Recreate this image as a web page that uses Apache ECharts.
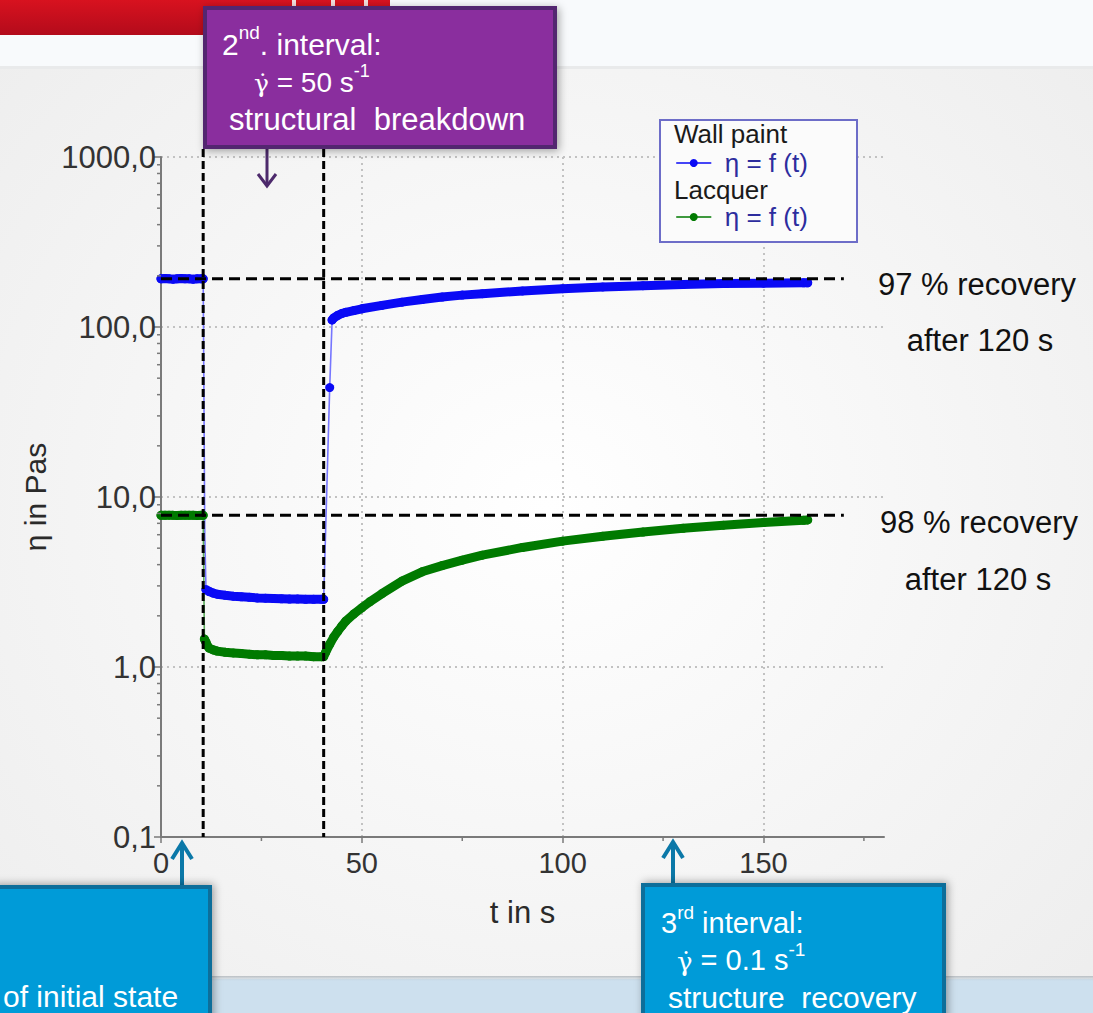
<!DOCTYPE html>
<html><head><meta charset="utf-8">
<script src="https://cdn.jsdelivr.net/npm/echarts@6/dist/echarts.min.js"></script>
<style>html,body{margin:0;padding:0;background:#f3f3f3}#c{width:1093px;height:1013px}</style>
</head><body><div id="c"></div>
<script>
// ---- axis ticks ----
const xTickValues = [0, 50, 100, 150];
const xMinorTickValues = [25, 75, 125, 175];
const yTickValues = [0.1, 1, 10, 100, 1000];
const yMinorTickValues = [0.2,0.3,0.4,0.5,0.6,0.7,0.8,0.9, 2,3,4,5,6,7,8,9, 20,30,40,50,60,70,80,90, 200,300,400,500,600,700,800,900];

// ---- interval boundaries & recovery reference levels ----
const dividerTimes = [10.5, 40.5];
const dividerTop = 1115;
const recoveryLevels = [192, 7.8];
const recoveryLineEnd = 170;

// ---- Wall paint (eta in Pa s vs t in s) ----
const wallTime1 = [0, 1, 2, 3, 4, 5, 6, 7, 8, 9, 10, 10.5];
const wallEta1  = [192, 193, 192, 191, 192, 193, 192, 192, 191, 192, 192, 192];
const wallDropTime = [10.7, 10.9];
const wallDropEta  = [35, 6];
const wallTime2 = [11.2, 12, 13, 14, 16, 18, 20, 22, 24, 26, 28, 30, 32, 34, 36, 38, 40, 40.5];
const wallEta2  = [2.85, 2.78, 2.72, 2.68, 2.64, 2.61, 2.59, 2.57, 2.55, 2.54, 2.53, 2.52, 2.51, 2.51, 2.5, 2.5, 2.5, 2.5];
const wallJumpTime = [42.0];
const wallJumpEta  = [44];
const wallTime3 = [42.6, 43, 44, 45, 46, 48, 50, 55, 60, 65, 70, 75, 80, 90, 100, 110, 120, 130, 140, 150, 160, 161];
const wallEta3  = [110, 113, 117, 120, 122, 125, 128, 134, 140, 145, 150, 154, 157, 163, 168, 172, 175, 178, 180, 181, 182, 182];

// ---- Lacquer ----
const lacTime1 = [0, 1, 2, 3, 4, 5, 6, 7, 8, 9, 10, 10.5];
const lacEta1  = [7.8, 7.8, 7.82, 7.8, 7.79, 7.8, 7.81, 7.8, 7.8, 7.79, 7.8, 7.8];
const lacTime2 = [10.8, 11.2, 11.6, 12, 13, 14, 16, 18, 20, 22, 24, 26, 28, 30, 32, 34, 36, 38, 40, 40.5];
const lacEta2  = [1.46, 1.40, 1.33, 1.29, 1.26, 1.24, 1.22, 1.21, 1.2, 1.19, 1.18, 1.18, 1.17, 1.17, 1.16, 1.16, 1.16, 1.15, 1.15, 1.15];
const lacTime3 = [41, 42, 43, 44, 45, 46, 48, 50, 52, 55, 60, 65, 70, 75, 80, 90, 100, 110, 120, 130, 140, 150, 160, 161];
const lacEta3  = [1.22, 1.36, 1.50, 1.62, 1.74, 1.86, 2.05, 2.23, 2.42, 2.70, 3.20, 3.63, 3.95, 4.25, 4.55, 5.05, 5.50, 5.88, 6.22, 6.55, 6.83, 7.08, 7.30, 7.33];

function pts(ts, vs) { return ts.map((t, i) => [t, vs[i]]); }
function gap(t) { return [t, null]; }

const wallThick = [].concat(pts(wallTime1, wallEta1), [gap(10.8)], pts(wallTime2, wallEta2), [gap(41)],
  pts(wallJumpTime, wallJumpEta), [gap(42.3)], pts(wallTime3, wallEta3));
const wallThin = [].concat(pts(wallTime1, wallEta1), pts(wallDropTime, wallDropEta), pts(wallTime2, wallEta2),
  pts(wallJumpTime, wallJumpEta), pts(wallTime3, wallEta3));
const lacThick = [].concat(pts(lacTime1, lacEta1), [gap(10.65)], pts(lacTime2, lacEta2), pts(lacTime3, lacEta3));
const lacThin = [].concat(pts(lacTime1, lacEta1), pts(lacTime2, lacEta2), pts(lacTime3, lacEta3));

const guideData = [];
dividerTimes.forEach(t => guideData.push([t, dividerTop, t, yTickValues[0], 0]));
recoveryLevels.forEach(v => guideData.push([xTickValues[0], v, recoveryLineEnd, v, 1]));

const F = "'Liberation Sans', Arial, sans-serif";
const G = "'DejaVu Serif', 'DejaVu Sans', serif";
const BLUE = '#0a0af5', GREEN = '#007a00';

const chart = echarts.init(document.getElementById('c'), null, {renderer: 'svg', width: 1093, height: 1013});

function boxText(x, y, parts, size) {
  const txt = parts.map(p => '{' + p[0] + '|' + p[1] + '}').join('');
  return {
    type: 'text', z: 101, x: x, y: y,
    style: {
      text: txt, verticalAlign: 'middle', align: 'left',
      rich: {
        a: {fontSize: size, fontFamily: F, fill: '#fff', lineHeight: size + 6, verticalAlign: 'bottom'},
        g: {fontSize: Math.round(size * 0.9), fontFamily: G, fill: '#fff', lineHeight: size + 6, verticalAlign: 'bottom'},
        s: {fontSize: Math.round(size * 0.64), fontFamily: F, fill: '#fff', lineHeight: Math.round(size * 0.64) + 2, verticalAlign: 'top'}
      }
    }
  };
}
function plainText(x, y, t, size, color, align) {
  return {type: 'text', z: 20, x: x, y: y, style: {text: t, font: size + 'px ' + F, fill: color, align: align || 'center', verticalAlign: 'middle'}};
}

const option = {
  backgroundColor: '#f3f3f3',
  animation: false,
  grid: {left: 161, top: 157, width: 723, height: 680, containLabel: false},
  xAxis: {
    type: 'value', min: 0, max: 180,
    name: 't in s', nameLocation: 'middle', nameGap: 60,
    nameTextStyle: {fontFamily: F, fontSize: 31, color: '#2a2a2a'},
    axisLine: {lineStyle: {color: '#7a7a7a', width: 2}},
    axisTick: {show: true, length: 6, customValues: xTickValues, lineStyle: {color: '#7a7a7a', width: 1.5}},
    axisLabel: {customValues: xTickValues, fontFamily: F, fontSize: 29, color: '#333', margin: 11},
    splitLine: {show: true, lineStyle: {color: '#c2c2c2', width: 2, type: [2, 4]}}
  },
  yAxis: {
    type: 'log', logBase: 10, min: 0.1, max: 1000,
    name: 'η in Pas', nameLocation: 'middle', nameGap: 104, nameRotate: 90,
    nameTextStyle: {fontFamily: F, fontSize: 30, color: '#2a2a2a'},
    axisLine: {show: true, lineStyle: {color: '#7a7a7a', width: 2}},
    axisTick: {show: true, length: 7, customValues: yTickValues, lineStyle: {color: '#7a7a7a', width: 1.5}},
    axisLabel: {customValues: yTickValues, fontFamily: F, fontSize: 31, color: '#333', margin: 5,
      formatter: v => Number(v).toFixed(1).replace('.', ',')},
    splitLine: {show: true, lineStyle: {color: '#c2c2c2', width: 2, type: [2, 4]}}
  },
  legend: [
    {data: ['Wall paint'], left: 671, top: 145, orient: 'vertical', itemWidth: 34, itemHeight: 10, z: 8,
      formatter: () => 'η = f (t)', textStyle: {fontFamily: F, fontSize: 26, color: '#2d2d9e', padding: [0, 0, 0, 9]},
      lineStyle: {width: 1.5}, selectedMode: false},
    {data: ['Lacquer'], left: 671, top: 199, orient: 'vertical', itemWidth: 34, itemHeight: 10, z: 8,
      formatter: () => 'η = f (t)', textStyle: {fontFamily: F, fontSize: 26, color: '#2d2d9e', padding: [0, 0, 0, 9]},
      lineStyle: {width: 1.5}, selectedMode: false}
  ],
  series: [
    {name: 'wallThin', type: 'line', data: wallThin, showSymbol: false, silent: true, z: 2,
      lineStyle: {color: '#7676ff', width: 1.6}},
    {name: 'lacThin', type: 'line', data: lacThin, showSymbol: false, silent: true, z: 2,
      lineStyle: {color: '#5aa95a', width: 1.6}},
    {name: 'Lacquer', type: 'line', data: lacThick, z: 3, silent: true, symbol: 'circle', symbolSize: 9, showSymbol: true,
      itemStyle: {color: GREEN}, lineStyle: {color: GREEN, width: 9, cap: 'round', join: 'round'}, emphasis: {disabled: true}},
    {name: 'Wall paint', type: 'line', data: wallThick, z: 3, silent: true, symbol: 'circle', symbolSize: 9, showSymbol: true,
      itemStyle: {color: BLUE}, lineStyle: {color: BLUE, width: 9, cap: 'round', join: 'round'}, emphasis: {disabled: true}},
    {name: 'guides', type: 'custom', z: 5, silent: true, data: guideData,
      renderItem: (params, api) => {
        const a = api.coord([api.value(0), api.value(1)]);
        const b = api.coord([api.value(2), api.value(3)]);
        return {type: 'line', shape: {x1: a[0], y1: a[1], x2: b[0], y2: b[1]},
          style: {stroke: '#000', lineWidth: 3, lineDash: api.value(4) ? [11, 6] : [8, 4]}};
      }},
    {name: 'yMinor', type: 'custom', z: 4, silent: true, data: yMinorTickValues.map(v => [0, v]),
      renderItem: (params, api) => {
        const p = api.coord([0, api.value(1)]);
        return {type: 'line', shape: {x1: p[0] - 4, y1: p[1], x2: p[0], y2: p[1]}, style: {stroke: '#7a7a7a', lineWidth: 1.5}};
      }},
    {name: 'xMinor', type: 'custom', z: 4, silent: true, data: xMinorTickValues.map(t => [t, 0.1]),
      renderItem: (params, api) => {
        const p = api.coord([api.value(0), 0.1]);
        return {type: 'line', shape: {x1: p[0], y1: p[1], x2: p[0], y2: p[1] + 4}, style: {stroke: '#7a7a7a', lineWidth: 1.5}};
      }}
  ],
  graphic: {elements: [
    // slide background
    {type: 'rect', z: -20, silent: true, shape: {x: 0, y: 0, width: 1093, height: 1013},
      style: {fill: {type: 'radial', x: 0.5, y: 0.5, r: 0.75, colorStops: [{offset: 0, color: '#ffffff'}, {offset: 1, color: '#ececec'}]}}},
    {type: 'rect', z: -19, silent: true, shape: {x: 0, y: 0, width: 1093, height: 67}, style: {fill: '#f8fafc'}},
    {type: 'rect', z: -19, silent: true, shape: {x: 0, y: 66, width: 1093, height: 3}, style: {fill: '#e9eaeb'}},
    {type: 'rect', z: -18, silent: true, shape: {x: 0, y: 0, width: 390, height: 35},
      style: {fill: {type: 'linear', x: 0, y: 0, x2: 0, y2: 1, colorStops: [{offset: 0, color: '#d8121f'}, {offset: 1, color: '#b30b1b'}]}}},
    {type: 'rect', z: -17, silent: true, shape: {x: 292, y: 0, width: 4, height: 20}, style: {fill: '#f3dede'}},
    {type: 'rect', z: -17, silent: true, shape: {x: 331, y: 0, width: 4, height: 20}, style: {fill: '#f3dede'}},
    {type: 'rect', z: -17, silent: true, shape: {x: 364, y: 0, width: 4, height: 20}, style: {fill: '#f3dede'}},
    // bottom band
    {type: 'rect', z: -19, silent: true, shape: {x: 0, y: 979, width: 1093, height: 34}, style: {fill: '#cde0ee'}},
    {type: 'rect', z: -18, silent: true, shape: {x: 0, y: 976, width: 1093, height: 6},
      style: {fill: {type: 'linear', x: 0, y: 0, x2: 0, y2: 1, colorStops: [{offset: 0, color: '#b9bec2'}, {offset: 1, color: 'rgba(205,224,238,0)'}]}}},
    // legend frame
    {type: 'rect', z: 6, silent: true, shape: {x: 660, y: 120, width: 197, height: 122}, style: {fill: '#fbfbfb', stroke: '#6d6dc8', lineWidth: 2}},
    plainText(674, 134, 'Wall paint', 26, '#1a1a1a', 'left'),
    plainText(674, 190, 'Lacquer', 26, '#1a1a1a', 'left'),
    // recovery annotations
    plainText(977, 284, '97 % recovery', 31, '#111'),
    plainText(980, 340, 'after 120 s', 31, '#111'),
    plainText(979, 522, '98 % recovery', 31, '#111'),
    plainText(978, 579, 'after 120 s', 31, '#111'),
    // purple box
    {type: 'rect', z: 100, silent: true, shape: {x: 205, y: 8, width: 350, height: 139},
      style: {fill: '#8a2d9e', stroke: '#53256f', lineWidth: 4, shadowBlur: 8, shadowColor: 'rgba(0,0,0,0.35)', shadowOffsetX: 2, shadowOffsetY: 2}},
    boxText(222, 41, [['a', '2'], ['s', 'nd'], ['a', '. interval:']], 30),
    boxText(254, 79, [['g', 'γ̇'], ['a', ' = 50 s'], ['s', '-1']], 28),
    boxText(229, 116, [['a', 'structural  breakdown']], 31),
    {type: 'line', z: 99, silent: true, shape: {x1: 267, y1: 147, x2: 267, y2: 186}, style: {stroke: '#4d2a6c', lineWidth: 3}},
    {type: 'polyline', z: 99, silent: true, shape: {points: [[258, 174], [267, 186], [276, 174]]}, style: {stroke: '#4d2a6c', lineWidth: 3, fill: null}},
    // left blue box
    {type: 'rect', z: 100, silent: true, shape: {x: -6, y: 887, width: 216, height: 140},
      style: {fill: '#009bd8', stroke: '#0b6e9a', lineWidth: 4, shadowBlur: 8, shadowColor: 'rgba(0,0,0,0.35)', shadowOffsetX: 2, shadowOffsetY: -1}},
    boxText(3, 993, [['a', 'of initial state']], 30),
    {type: 'line', z: 99, silent: true, shape: {x1: 182, y1: 887, x2: 182, y2: 843}, style: {stroke: '#0b78a8', lineWidth: 4}},
    {type: 'polyline', z: 99, silent: true, shape: {points: [[172, 859], [182, 843], [192, 859]]}, style: {stroke: '#0b78a8', lineWidth: 4, fill: null}},
    // right blue box
    {type: 'rect', z: 100, silent: true, shape: {x: 643, y: 885, width: 301, height: 140},
      style: {fill: '#009bd8', stroke: '#0b6e9a', lineWidth: 4, shadowBlur: 8, shadowColor: 'rgba(0,0,0,0.35)', shadowOffsetX: 2, shadowOffsetY: -1}},
    boxText(661, 920, [['a', '3'], ['s', 'rd'], ['a', ' interval:']], 29),
    boxText(677, 957, [['g', 'γ̇'], ['a', ' = 0.1 s'], ['s', '-1']], 29),
    boxText(668, 994, [['a', 'structure  recovery']], 30),
    {type: 'line', z: 99, silent: true, shape: {x1: 673, y1: 885, x2: 673, y2: 842}, style: {stroke: '#0b78a8', lineWidth: 4}},
    {type: 'polyline', z: 99, silent: true, shape: {points: [[663, 858], [673, 842], [683, 858]]}, style: {stroke: '#0b78a8', lineWidth: 4, fill: null}}
  ]}
};
chart.setOption(option);
</script>
</body></html>
